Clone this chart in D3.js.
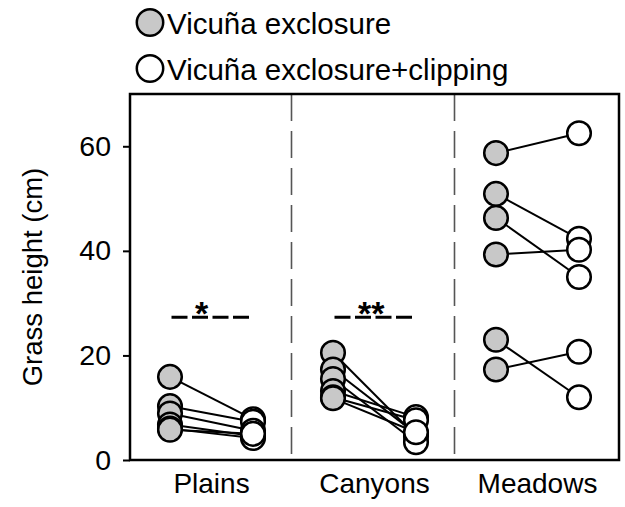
<!DOCTYPE html>
<html>
<head>
<meta charset="utf-8">
<script src="https://cdn.jsdelivr.net/npm/d3@7"></script>
<style>
  html, body { margin: 0; padding: 0; background: #fff; }
  svg { display: block; font-family: "Liberation Sans", Arial, sans-serif; }
</style>
</head>
<body>
<svg id="chart" width="625" height="507"></svg>
<script>
const categories = ["Plains", "Canyons", "Meadows"];
const treatments = ["Vicuña exclosure", "Vicuña exclosure+clipping"];
const plainsExclosure  = [15.9, 10.3, 8.9, 6.8, 6.0, 5.8];
const plainsClipping   = [7.8, 7.3, 5.6, 4.6, 4.2, 5.0];
const canyonsExclosure = [20.5, 17.3, 15.5, 13.2, 12.0, 11.8];
const canyonsClipping  = [4.6, 5.0, 3.4, 8.2, 7.6, 5.3];
const meadowsExclosure = [58.7, 50.9, 46.3, 39.3, 23.0, 17.3];
const meadowsClipping  = [62.5, 42.3, 35.0, 40.2, 12.0, 20.7];
const yTicks = [0, 20, 40, 60];
const yLabel = "Grass height (cm)";
const sigLabels = ["*", "**", ""];
const sigValues = [27.3, 27.3, null];

const exclosureByCat = [plainsExclosure, canyonsExclosure, meadowsExclosure];
const clippingByCat  = [plainsClipping, canyonsClipping, meadowsClipping];

const svg = d3.select("#chart");
const mLeft = 130, mRight = 619, mTop = 94, mBottom = 460;

const y = d3.scaleLinear().domain([0, 70]).range([mBottom, mTop]);
const x = d3.scaleBand().domain(categories).range([mLeft, mRight]).padding(0);
const inner = d3.scalePoint().domain(treatments).range([-41.5, 41.5]);
const fills = d3.scaleOrdinal().domain(treatments).range(["#c8c8c8", "#ffffff"]);

const cx = (cat, t) => x(cat) + x.bandwidth() / 2 + inner(t);

// Dividers
svg.append("g").selectAll("line")
  .data(categories.slice(1))
  .join("line")
  .attr("x1", d => x(d) - 1.5).attr("x2", d => x(d) - 1.5)
  .attr("y1", mTop).attr("y2", mBottom)
  .attr("stroke", "#555").attr("stroke-width", 1.6)
  .attr("stroke-dasharray", "27,10");

// Frame
svg.append("rect")
  .attr("x", mLeft).attr("y", mTop)
  .attr("width", mRight - mLeft).attr("height", mBottom - mTop)
  .attr("fill", "none").attr("stroke", "#000").attr("stroke-width", 2.5);

// Y axis
const yAxis = d3.axisLeft(y).tickValues(yTicks).tickSize(7).tickPadding(12).tickFormat(d3.format("d"));
const gy = svg.append("g").attr("transform", `translate(${mLeft},0)`).call(yAxis);
gy.select(".domain").remove();
gy.selectAll(".tick line").attr("stroke", "#000").attr("stroke-width", 2);
gy.selectAll(".tick text").attr("font-size", 28.5).attr("fill", "#000")
  .attr("font-family", "'Liberation Sans', Arial, sans-serif");

// X axis labels
const xAxis = d3.axisBottom(x).tickSize(0).tickPadding(13);
const gx = svg.append("g").attr("transform", `translate(0,${mBottom})`).call(xAxis);
gx.select(".domain").remove();
gx.selectAll(".tick text").attr("font-size", 28).attr("fill", "#000")
  .attr("font-family", "'Liberation Sans', Arial, sans-serif");

// Y label
svg.append("text")
  .attr("transform", `translate(42,${(mTop + mBottom) / 2}) rotate(-90)`)
  .attr("text-anchor", "middle")
  .attr("font-size", 27.5).attr("fill", "#000")
  .text(yLabel);

// Data
const pairs = [];
categories.forEach((cat, i) => {
  exclosureByCat[i].forEach((v, j) => {
    pairs.push({ cat, a: v, b: clippingByCat[i][j] });
  });
});

svg.append("g").selectAll("line")
  .data(pairs)
  .join("line")
  .attr("x1", d => cx(d.cat, treatments[0]))
  .attr("y1", d => y(d.a))
  .attr("x2", d => cx(d.cat, treatments[1]))
  .attr("y2", d => y(d.b))
  .attr("stroke", "#000").attr("stroke-width", 2);

const pts = [];
pairs.forEach(p => pts.push({ cat: p.cat, t: treatments[0], v: p.a }));
pairs.forEach(p => pts.push({ cat: p.cat, t: treatments[1], v: p.b }));

svg.append("g").selectAll("circle")
  .data(pts)
  .join("circle")
  .attr("cx", d => cx(d.cat, d.t))
  .attr("cy", d => y(d.v))
  .attr("r", 11.8)
  .attr("fill", d => fills(d.t))
  .attr("stroke", "#000").attr("stroke-width", 2.5);

// Significance markers
const sig = categories.map((cat, i) => ({ cat, label: sigLabels[i], v: sigValues[i] })).filter(d => d.v !== null);
const gs = svg.append("g");
gs.selectAll("line")
  .data(sig)
  .join("line")
  .attr("x1", d => cx(d.cat, treatments[0]) + 1.5)
  .attr("x2", d => cx(d.cat, treatments[1]) - 2)
  .attr("y1", d => y(d.v)).attr("y2", d => y(d.v))
  .attr("stroke", "#000").attr("stroke-width", 3)
  .attr("stroke-dasharray", "16,4.5");
gs.selectAll("text")
  .data(sig)
  .join("text")
  .attr("x", d => cx(d.cat, treatments[0]) + 25)
  .attr("y", d => y(d.v) + 8)
  .attr("font-size", 34).attr("font-weight", "bold").attr("fill", "#000")
  .text(d => d.label);

// Legend
const lg = svg.append("g");
const legendY = d3.scalePoint().domain(treatments).range([22.5, 68.5]);
lg.selectAll("circle")
  .data(treatments)
  .join("circle")
  .attr("cx", 150).attr("cy", d => legendY(d))
  .attr("r", 13.2)
  .attr("fill", d => fills(d))
  .attr("stroke", "#000").attr("stroke-width", 2.5);
lg.selectAll("text")
  .data(treatments)
  .join("text")
  .attr("x", 167).attr("y", d => legendY(d) + 11)
  .attr("font-size", 29.5).attr("fill", "#000")
  .text(d => d);
</script>
</body>
</html>
